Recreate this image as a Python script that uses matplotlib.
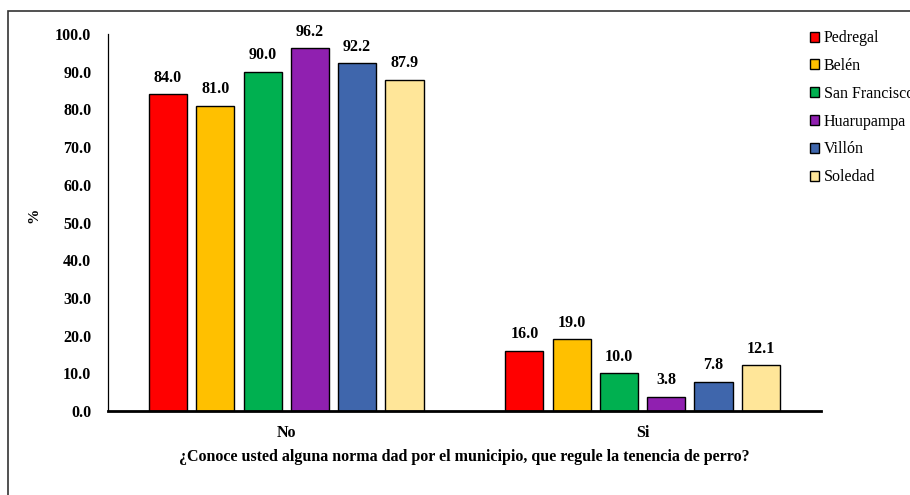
import numpy as np
import matplotlib
matplotlib.use("Agg")
import matplotlib.pyplot as plt
from matplotlib.patches import Rectangle, Patch

# Respuestas por localidad (%)
categorias = ["No", "Si"]
localidades = ["Pedregal", "Belén", "San Francisco", "Huarupampa", "Villón", "Soledad"]
pedregal = [84.0, 16.0]
belen = [81.0, 19.0]
san_francisco = [90.0, 10.0]
huarupampa = [96.2, 3.8]
villon = [92.2, 7.8]
soledad = [87.9, 12.1]
colores = ["#FF0000", "#FFC000", "#00B050", "#9020B0", "#3F66AC", "#FFE699"]

series = [pedregal, belen, san_francisco, huarupampa, villon, soledad]

plt.rcParams['font.family'] = ['Liberation Serif', 'DejaVu Serif']

fig = plt.figure(figsize=(9.1, 4.95), dpi=100)
ax = fig.add_axes([0.1187, 0.1697, 0.7833, 0.7616])

# marco exterior del gráfico
fig.patches.append(Rectangle((8 / 910, -0.05), 1.2, 1 - 11 / 495 + 0.05,
                             transform=fig.transFigure, fill=False,
                             edgecolor="#333333", linewidth=1.2))

x = np.arange(len(categorias))
paso = 0.1327
ancho = 0.107
for i, (vals, col) in enumerate(zip(series, colores)):
    pos = x + (i - 2.5) * paso
    ax.bar(pos, vals, ancho, color=col, edgecolor="black", linewidth=1.0)
    for p, v in zip(pos, vals):
        ax.text(p, v + 2.3, f"{v:.1f}", ha="center", va="bottom",
                fontsize=11.5, fontweight="bold")

ax.set_xlim(-0.5, 1.5)
ax.set_ylim(0, 100)
ax.set_yticks(np.arange(0, 101, 10))
ax.set_yticklabels([f"{t:.1f}" for t in np.arange(0, 101, 10)],
                   fontsize=11.5, fontweight="bold")
ax.set_xticks(x)
ax.set_xticklabels(categorias, fontsize=11.5, fontweight="bold")
ax.tick_params(axis="y", length=0, pad=12)
ax.tick_params(axis="x", length=0, pad=10)

for s in ["top", "right"]:
    ax.spines[s].set_visible(False)
ax.spines["left"].set_linewidth(0.9)
ax.spines["bottom"].set_linewidth(2.0)

ax.set_ylabel("%", fontsize=11, fontweight="bold")
ax.yaxis.set_label_coords(-0.095, 0.52)
ax.set_xlabel("¿Conoce usted alguna norma dad por el municipio, que regule la tenencia de perro?",
              fontsize=11.5, fontweight="bold", labelpad=6)

handles = [Patch(facecolor=c, edgecolor="black", linewidth=1.0) for c in colores]
fig.legend(handles, localidades, loc="upper left", bbox_to_anchor=(0.874, 0.968),
           frameon=False, fontsize=11.5, handlelength=0.6, handleheight=0.6,
           handletextpad=0.3, labelspacing=0.74)

fig.savefig("out.png", dpi=100)
